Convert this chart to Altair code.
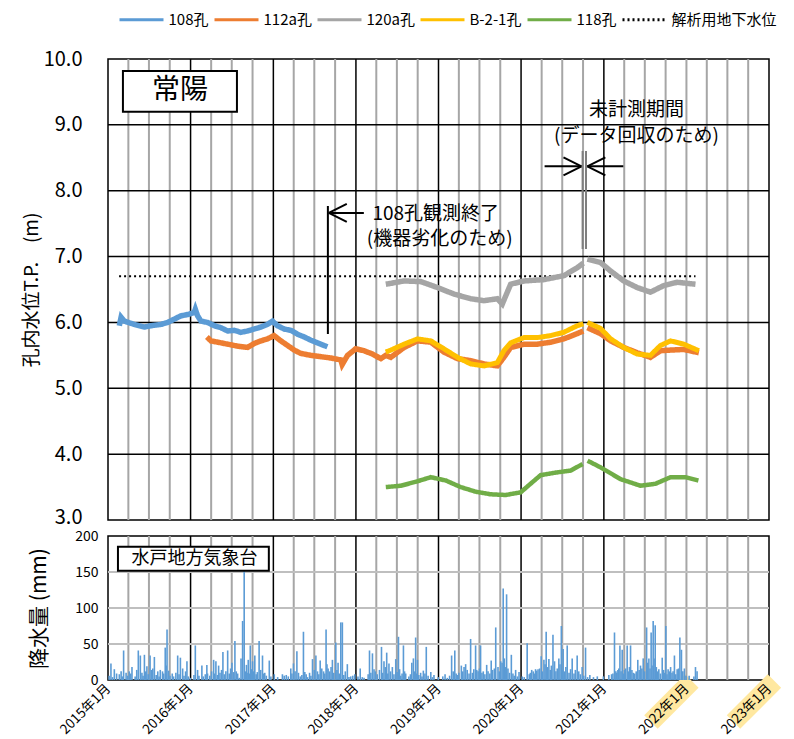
import altair as alt
import pandas as pd

FONT = "Noto Sans CJK JP"
BASE = pd.Timestamp("2015-01-01")

SERIES = ["108孔", "112a孔", "120a孔", "B-2-1孔", "118孔", "解析用地下水位"]
COLORS = ["#5b9bd5", "#ed7d31", "#a5a5a5", "#ffc000", "#70ad47", "#000000"]
DASHES = [[1, 0], [1, 0], [1, 0], [1, 0], [1, 0], [2, 3]]
WIDTHS = [5.5, 5.5, 5.5, 5, 4.5]

# water levels (T.P. m); days counted from 2015-01-01
w108_day = [50, 58, 72, 116, 160, 190, 234, 264, 293, 322, 352, 381, 386, 396, 411, 440, 470, 499, 529, 558, 587, 617,
            646, 676, 705, 727, 749, 779, 808, 838, 867, 897, 926, 948, 970]
w108_lv = [5.95, 6.08, 6.02, 5.97, 5.93, 5.95, 5.97, 6.00, 6.05, 6.10, 6.12, 6.15, 6.20, 6.10, 6.02, 6.00, 5.95, 5.92, 5.87, 5.88, 5.85, 5.87,
           5.90, 5.93, 5.97, 6.02, 5.95, 5.90, 5.88, 5.82, 5.78, 5.73, 5.69, 5.66, 5.63]

w112_day = [437, 455, 485, 529, 573, 617, 646, 676, 705, 734, 764, 794, 823, 852, 897, 941, 985, 1029, 1035, 1059, 1095,
            1132, 1169, 1206, 1228, 1250, 1309, 1368, 1427, 1485, 1545, 1603, 1662, 1721, 1750, 1780, 1839, 1898, 1957, 2015, 2074,
            2101, 2119, 2177, 2222, 2280, 2339, 2398, 2442, 2487, 2545, 2612]
w112_lv = [5.78, 5.72, 5.70, 5.67, 5.64, 5.62, 5.68, 5.72, 5.75, 5.80, 5.72, 5.65, 5.58, 5.53, 5.50, 5.48, 5.46, 5.43, 5.36, 5.50, 5.60,
           5.57, 5.52, 5.45, 5.50, 5.47, 5.62, 5.72, 5.70, 5.55, 5.45, 5.42, 5.37, 5.34, 5.47, 5.62, 5.67, 5.67, 5.70, 5.75, 5.83,
           5.87, 5.92, 5.83, 5.72, 5.62, 5.54, 5.47, 5.57, 5.58, 5.59, 5.54]

w120_day = [1228, 1309, 1383, 1456, 1530, 1603, 1662, 1721, 1743, 1780, 1839, 1927, 2015, 2074, 2101,
            2119, 2177, 2222, 2280, 2339, 2398, 2457, 2516, 2597]
w120_lv = [6.58, 6.63, 6.62, 6.53, 6.43, 6.36, 6.33, 6.36, 6.28, 6.58, 6.63, 6.65, 6.71, 6.83, 6.90,
           6.96, 6.91, 6.78, 6.63, 6.53, 6.46, 6.56, 6.61, 6.58]

wB21_day = [1228, 1250, 1309, 1368, 1427, 1485, 1545, 1603, 1662, 1721, 1750, 1780, 1839, 1898, 1957, 2015, 2074, 2101,
            2119, 2177, 2222, 2280, 2339, 2398, 2442, 2487, 2545, 2612]
wB21_lv = [5.55, 5.58, 5.67, 5.75, 5.72, 5.60, 5.47, 5.37, 5.34, 5.39, 5.57, 5.69, 5.77, 5.77, 5.80, 5.85, 5.95, 5.98,
           6.00, 5.91, 5.75, 5.62, 5.52, 5.50, 5.65, 5.72, 5.67, 5.57]

w118_day = [1228, 1294, 1360, 1427, 1493, 1559, 1625, 1692, 1758, 1824, 1868, 1912, 1979, 2045, 2098,
            2120, 2177, 2266, 2354, 2420, 2487, 2553, 2610]
w118_lv = [3.50, 3.52, 3.58, 3.65, 3.60, 3.50, 3.43, 3.39, 3.38, 3.42, 3.55, 3.68, 3.72, 3.75, 3.85,
           3.90, 3.80, 3.62, 3.52, 3.55, 3.65, 3.65, 3.60]

design_day = [49, 2597]
design_lv = [6.7, 6.7]
GAP_DAY = 2110  # 未計測期間

# daily precipitation at 水戸地方気象台 (day, mm): larger events
precip = [(13, 23), (28, 15), (50, 8), (69, 41), (80, 10), (94, 12), (106, 18), (134, 41), (143, 34), (161, 35),
          (172, 19), (186, 34), (193, 14), (205, 32), (231, 14), (241, 12), (253, 45), (261, 70), (268, 13), (284, 9),
          (308, 34), (320, 31), (330, 16), (349, 26), (364, 3), (386, 48), (396, 14), (415, 20), (437, 21), (440, 9),
          (467, 28), (477, 26), (489, 20), (508, 39), (529, 41), (548, 24), (561, 54), (580, 3), (595, 82), (602, 155),
          (612, 21), (620, 28), (629, 48), (639, 26), (649, 34), (668, 54), (683, 34), (693, 10), (713, 27), (735, 8),
          (771, 8), (788, 7), (808, 16), (820, 23), (835, 40), (850, 5), (864, 67), (882, 4), (904, 29), (919, 34),
          (938, 27), (953, 12), (964, 70), (973, 16), (992, 28), (1007, 52), (1017, 24), (1029, 80), (1036, 80), (1058, 22),
          (1073, 5), (1091, 8), (1115, 16), (1132, 3), (1156, 41), (1169, 37), (1176, 15), (1209, 46), (1220, 26), (1232, 38),
          (1242, 23), (1257, 18), (1272, 29), (1284, 60), (1294, 6), (1306, 48), (1316, 9), (1343, 24), (1350, 30), (1360, 59),
          (1368, 28), (1382, 10), (1394, 13), (1407, 46), (1427, 11), (1441, 7), (1490, 8), (1500, 3), (1519, 34), (1533, 41),
          (1544, 7), (1562, 20), (1574, 18), (1581, 22), (1603, 57), (1611, 10), (1625, 48), (1636, 12), (1647, 48), (1659, 12),
          (1674, 21), (1694, 27), (1714, 73), (1724, 18), (1736, 26), (1747, 127), (1762, 119), (1768, 16), (1783, 35), (1802, 14),
          (1817, 11), (1831, 5), (1853, 51), (1873, 14), (1890, 15), (1901, 15), (1915, 33), (1927, 28), (1937, 67), (1949, 29),
          (1967, 63), (1974, 26), (1993, 30), (2004, 75), (2012, 43), (2030, 48), (2052, 30), (2074, 34), (2096, 18), (2111, 45),
          (2130, 7), (2163, 5), (2214, 7), (2226, 8), (2239, 66), (2254, 14), (2263, 48), (2273, 42), (2283, 14), (2295, 48),
          (2310, 48), (2328, 9), (2342, 28), (2354, 20), (2366, 30), (2381, 73), (2391, 30), (2401, 66), (2410, 82), (2419, 76),
          (2435, 15), (2450, 31), (2466, 75), (2476, 15), (2487, 18), (2504, 34), (2516, 15), (2528, 59), (2535, 42), (2548, 16),
          (2569, 6), (2597, 18), (2604, 12)]
# smaller rain days
precip_small = [(5, 6), (20, 4), (38, 9), (58, 12), (63, 5), (87, 6), (100, 9), (120, 5), (127, 14), (150, 10), (155, 6),
                (167, 12), (178, 8), (198, 16), (213, 7), (220, 12), (226, 5), (246, 9), (257, 20), (274, 6), (290, 5),
                (300, 10), (314, 8), (336, 6), (343, 12), (355, 5), (380, 7), (402, 6), (421, 5), (430, 8), (450, 6),
                (458, 12), (471, 9), (484, 7), (495, 10), (502, 14), (514, 8), (521, 12), (536, 9), (542, 16), (555, 11),
                (567, 12), (573, 9), (588, 30), (607, 12), (615, 10), (625, 9), (634, 15), (644, 12), (655, 8), (660, 11),
                (675, 14), (688, 9), (700, 6), (720, 5), (750, 4), (779, 6), (797, 5), (813, 9), (827, 12), (842, 10),
                (857, 7), (870, 11), (876, 8), (891, 10), (897, 6), (912, 14), (926, 12), (932, 8), (945, 16), (958, 9),
                (968, 22), (980, 12), (986, 18), (998, 10), (1012, 14), (1022, 9), (1042, 7), (1049, 12), (1065, 4),
                (1082, 6), (1105, 5), (1124, 4), (1150, 8), (1162, 10), (1182, 12), (1190, 8), (1200, 14), (1214, 10),
                (1226, 18), (1237, 9), (1249, 12), (1264, 8), (1278, 11), (1289, 15), (1300, 9), (1311, 12), (1330, 5),
                (1337, 8), (1356, 12), (1364, 9), (1374, 7), (1388, 5), (1401, 9), (1415, 6), (1434, 4), (1460, 4),
                (1480, 5), (1510, 6), (1526, 12), (1539, 9), (1551, 10), (1568, 12), (1588, 14), (1596, 9), (1617, 15),
                (1630, 14), (1642, 16), (1653, 10), (1666, 8), (1680, 12), (1688, 9), (1700, 14), (1708, 16), (1730, 12),
                (1742, 24), (1752, 30), (1757, 18), (1775, 10), (1790, 9), (1796, 6), (1810, 5), (1840, 4), (1862, 8),
                (1867, 10), (1880, 12), (1885, 9), (1895, 13), (1908, 16), (1920, 12), (1932, 22), (1943, 18), (1955, 14),
                (1960, 20), (1980, 12), (1986, 16), (1998, 22), (2008, 14), (2018, 12), (2024, 18), (2038, 10), (2045, 15),
                (2060, 9), (2066, 14), (2081, 12), (2088, 8), (2103, 6), (2120, 4), (2146, 4), (2190, 5), (2232, 9),
                (2245, 12), (2249, 10), (2258, 16), (2268, 12), (2278, 9), (2288, 16), (2300, 12), (2305, 18), (2316, 14),
                (2322, 10), (2335, 12), (2348, 14), (2360, 16), (2372, 12), (2386, 24), (2396, 16), (2405, 20), (2414, 30),
                (2424, 18), (2430, 12), (2442, 9), (2456, 14), (2461, 10), (2471, 8), (2481, 12), (2493, 10), (2498, 12),
                (2510, 8), (2522, 16), (2541, 12), (2555, 6), (2590, 5)]


def to_dates(days):
    return [BASE + pd.Timedelta(days=int(d)) for d in days]


def series_df(name, days, vals):
    assert len(days) == len(vals), name
    seg = [0 if d < GAP_DAY else 1 for d in days]
    return pd.DataFrame({"date": to_dates(days), "lv": vals, "series": name, "seg": seg})


dfs = [
    series_df("108孔", w108_day, w108_lv),
    series_df("112a孔", w112_day, w112_lv),
    series_df("120a孔", w120_day, w120_lv),
    series_df("B-2-1孔", wB21_day, wB21_lv),
    series_df("118孔", w118_day, w118_lv),
]
df_design = series_df("解析用地下水位", design_day, design_lv)
all_p = precip + precip_small
df_precip = pd.DataFrame({"date": to_dates([p[0] for p in all_p]), "mm": [p[1] for p in all_p], "z": 0})

# grid line dates
all_q = pd.date_range("2015-01-01", "2022-12-31", freq="QS")
gray_dates = [d for d in all_q if (d.month != 1 or d.year == 2022) and d > pd.Timestamp("2015-01-01")]
black_dates = [pd.Timestamp(f"{y}-01-01") for y in range(2016, 2022)]
df_gray = pd.DataFrame({"date": gray_dates})
df_black = pd.DataFrame({"date": black_dates})

DOMAIN_X = [alt.DateTime(year=2015, month=1, date=1), alt.DateTime(year=2023, month=1, date=1)]
W, H_TOP, H_BOT = 661, 461, 144

# ---------------- top panel ----------------
xs = alt.Scale(domain=DOMAIN_X)
ys_top = alt.Scale(domain=[3, 10], nice=False, zero=False)

legend = alt.Legend(orient="none", legendX=26, legendY=-47, direction="horizontal", title=None,
                    symbolType="M -4 0 L 4 0", symbolSize=121, symbolStrokeWidth=3,
                    labelFont=FONT, labelFontSize=15, labelColor="black", labelOffset=19.5,
                    columnPadding=-1, labelLimit=0, padding=0)
color_enc = alt.Color("series:N", scale=alt.Scale(domain=SERIES, range=COLORS), legend=legend)
dash_enc = alt.StrokeDash("series:N", scale=alt.Scale(domain=SERIES, range=DASHES), legend=legend)

y_axis_top = alt.Axis(values=[3, 4, 5, 6, 7, 8, 9, 10], format=".1f", ticks=False, domain=False, grid=False,
                      labelFontSize=20, labelPadding=26, labelFlush=False,
                      labelOffset={"condition": {"test": "datum.value == 3", "value": -3}, "value": 0},
                      title="孔内水位T.P.　(m)", titleFontSize=19, titleFontWeight="normal", titlePadding=2)


def XT():
    return alt.X("date:T", scale=xs, axis=None)


def YT(field="lv:Q"):
    return alt.Y(field, scale=ys_top, axis=y_axis_top)


t_gray = alt.Chart(df_gray).mark_rule(color="#a6a6a6", strokeWidth=2).encode(x=XT())
t_black = alt.Chart(df_black).mark_rule(color="black", strokeWidth=1.5).encode(x=XT())
t_h = alt.Chart(pd.DataFrame({"lv": [4, 5, 6, 7, 8, 9]})).mark_rule(color="black", strokeWidth=1.5).encode(y=YT())

line_layers = []
for df, sw in zip(dfs, WIDTHS):
    line_layers.append(
        alt.Chart(df).mark_line(strokeWidth=sw).encode(
            x=XT(), y=YT(), color=color_enc, strokeDash=dash_enc, detail="seg:N"))
t_design = alt.Chart(df_design).mark_line(strokeWidth=2).encode(
    x=XT(), y=YT(), color=color_enc, strokeDash=dash_enc)

# annotations
ann_text = pd.DataFrame({
    "date": to_dates([1449, 1466, 2336, 2336]),
    "lv": [7.646, 7.267, 9.226, 8.83],
    "t": ["108孔観測終了", "(機器劣化のため)", "未計測期間", "(データ回収のため)"],
})
t_text = alt.Chart(ann_text).mark_text(font=FONT, fontSize=19, color="black", align="center", baseline="middle").encode(
    x=XT(), y=YT(), text="t:N")

ann_lines = pd.DataFrame({
    "date": to_dates([972, 976, 1930, 2119]),
    "date2": to_dates([972, 1131, 2093, 2278]),
    "lv": [7.768, 7.662, 8.371, 8.371],
    "lv2": [5.824, 7.662, 8.371, 8.371],
})
t_alines = alt.Chart(ann_lines).mark_rule(color="black", strokeWidth=2).encode(
    x=XT(), x2="date2:T", y=YT(), y2="lv2:Q")

gap_lines = pd.DataFrame({
    "date": to_dates([2098, 2113]), "date2": to_dates([2098, 2113]),
    "lv": [8.603, 8.603], "lv2": [7.115, 7.115]})
t_glines = alt.Chart(gap_lines).mark_rule(color="#7f7f7f", strokeWidth=2).encode(
    x=XT(), x2="date2:T", y=YT(), y2="lv2:Q")

heads_left = pd.DataFrame({"date": to_dates([976, 2119]), "lv": [7.662, 8.371]})
heads_right = pd.DataFrame({"date": to_dates([2093]), "lv": [8.371]})
t_hl = alt.Chart(heads_left).mark_point(shape="M 0 0 L 2 -1 M 0 0 L 2 1", size=324, filled=False,
                                         color="black", strokeWidth=2, opacity=1).encode(x=XT(), y=YT())
t_hr = alt.Chart(heads_right).mark_point(shape="M 0 0 L -2 -1 M 0 0 L -2 1", size=324, filled=False,
                                          color="black", strokeWidth=2, opacity=1).encode(x=XT(), y=YT())

site_box = pd.DataFrame({"date": to_dates([66]), "date2": to_dates([570]), "lv": [9.818], "lv2": [9.2]})
t_box = alt.Chart(site_box).mark_rect(fill="white", stroke="black", strokeWidth=2).encode(
    x=XT(), x2="date2:T", y=YT(), y2="lv2:Q")
site_txt = pd.DataFrame({"date": to_dates([318]), "lv": [9.514], "t": ["常陽"]})
t_boxtxt = alt.Chart(site_txt).mark_text(font=FONT, fontSize=28, color="black", align="center", baseline="middle").encode(
    x=XT(), y=YT(), text="t:N")

top = alt.layer(t_gray, t_black, t_h, t_design, *line_layers, t_alines, t_glines, t_hl, t_hr, t_text,
                t_box, t_boxtxt).properties(width=W, height=H_TOP)

# ---------------- bottom panel ----------------
xs2 = alt.Scale(domain=DOMAIN_X)
ys_bot = alt.Scale(domain=[0, 200], nice=False)
x_axis_bot = alt.Axis(values=[alt.DateTime(year=y, month=1, date=1) for y in range(2015, 2024)],
                      format="%Y年1月", labelAngle=315, labelAlign="right", labelBaseline="middle",
                      labelPadding=6, ticks=False, domain=False, grid=False, labelFlush=False,
                      labelOverlap=False, labelFontSize=13.5, title=None, zindex=1)
y_axis_bot = alt.Axis(values=[0, 50, 100, 150, 200], ticks=False, domain=False, grid=False,
                      labelFontSize=14, labelPadding=10, labelFlush=False,
                      title="降水量 (mm)", titleFontSize=21, titleFontWeight="normal", titlePadding=25)


def XB():
    return alt.X("date:T", scale=xs2, axis=x_axis_bot)


def YB(field="mm:Q"):
    return alt.Y(field, scale=ys_bot, axis=y_axis_bot)


b_gray = alt.Chart(df_gray).mark_rule(color="#a6a6a6", strokeWidth=2).encode(x=XB())
b_black = alt.Chart(df_black).mark_rule(color="black", strokeWidth=1.5).encode(x=XB())
b_h = alt.Chart(pd.DataFrame({"mm": [50, 100, 150]})).mark_rule(color="#bfbfbf", strokeWidth=2).encode(y=YB())
b_bars = alt.Chart(df_precip).mark_rule(color="#5b9bd5", strokeWidth=1.6).encode(x=XB(), y=YB(), y2="z:Q")

hl = pd.DataFrame({"date": to_dates([2581, 2946]), "date2": to_dates([2400, 2765])})
b_hl = alt.Chart(hl).mark_rule(color="#ffe8a0", strokeWidth=19, strokeCap="butt").encode(
    x=XB(), x2="date2:T", y=alt.value(H_BOT + 1), y2=alt.value(H_BOT + 42))

st_box = pd.DataFrame({"date": to_dates([44]), "date2": to_dates([711]), "mm": [185], "mm2": [151.8]})
b_box = alt.Chart(st_box).mark_rect(fill="white", stroke="black", strokeWidth=2).encode(
    x=XB(), x2="date2:T", y=YB(), y2="mm2:Q")
st_txt = pd.DataFrame({"date": to_dates([382]), "mm": [168], "t": ["水戸地方気象台"]})
b_boxtxt = alt.Chart(st_txt).mark_text(font=FONT, fontSize=18, color="black", align="center", baseline="middle").encode(
    x=XB(), y=YB(), text="t:N")

bottom = alt.layer(b_hl, b_gray, b_black, b_h, b_bars, b_box, b_boxtxt).properties(width=W, height=H_BOT)

chart = alt.vconcat(top, bottom, spacing=16, bounds="flush").properties(
    padding={"left": 13, "top": 4, "right": 0, "bottom": 0}
).configure_view(stroke="black", strokeWidth=1.5).configure_axis(
    labelFont=FONT, titleFont=FONT, labelColor="black", titleColor="black")

chart.save("out.html", embed_options={"renderer": "svg", "actions": False})
